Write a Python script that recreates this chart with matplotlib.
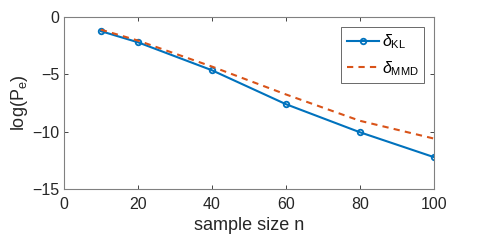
import matplotlib
matplotlib.use("Agg")
import matplotlib.pyplot as plt

# sample sizes and log error probabilities
sample_size = [10, 20, 40, 60, 80, 100]
log_pe_kl = [-1.23, -2.2, -4.64, -7.6, -10.05, -12.22]
log_pe_mmd = [-1.1, -2.05, -4.32, -6.75, -9.05, -10.6]

x_ticks = [0, 20, 40, 60, 80, 100]
y_ticks = [-15, -10, -5, 0]

plt.rcParams["font.family"] = ["Liberation Sans", "DejaVu Sans"]
plt.rcParams["mathtext.fontset"] = "custom"
plt.rcParams["mathtext.rm"] = "Liberation Sans"
plt.rcParams["mathtext.it"] = "Liberation Sans:italic"

axis_color = "#262626"

fig = plt.figure(figsize=(4.8, 2.4), dpi=100)
ax = fig.add_axes([0.133, 0.2125, 0.771, 0.7165])

ax.plot(sample_size, log_pe_kl, color="#0072BD", linewidth=1.5, marker="o",
        markersize=4, markerfacecolor="none", markeredgewidth=1.3,
        label=r"$\delta_{\mathrm{KL}}$")
ax.plot(sample_size, log_pe_mmd, color="#D95319", linewidth=1.5, linestyle=(0, (3, 2.5)),
        label=r"$\delta_{\mathrm{MMD}}$")

ax.set_xlim(0, 100)
ax.set_ylim(-15, 0)
ax.set_xticks(x_ticks)
ax.set_yticks(y_ticks)
ax.tick_params(direction="in", length=3, top=True, right=True, labelsize=11.5,
               colors=axis_color, width=0.6, pad=3)
ax.tick_params(axis="x", pad=6)
for spine in ax.spines.values():
    spine.set_color("#808080")
    spine.set_linewidth(0.8)
ax.set_xlabel("sample size n", fontsize=13, color=axis_color, labelpad=3)
ax.set_ylabel(r"log(P$_{\mathrm{e}}$)", fontsize=13, color=axis_color, labelpad=2)

leg = ax.legend(loc="upper right", fontsize=11.5, frameon=True, fancybox=False,
                edgecolor=axis_color, handlelength=2.0, borderaxespad=0.6,
                labelspacing=0.5, handletextpad=0.2, borderpad=0.35)
leg.get_frame().set_linewidth(0.6)

fig.savefig("out.png", dpi=100)
